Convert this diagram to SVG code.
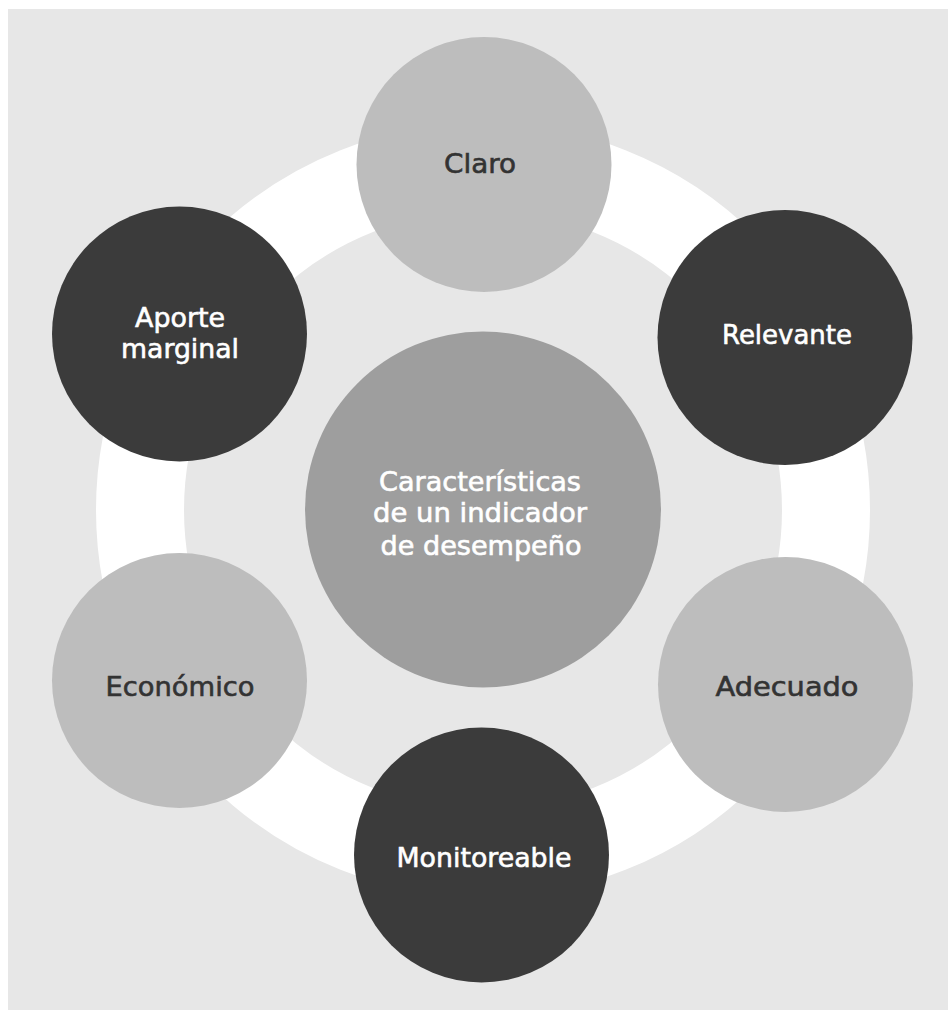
<svg xmlns="http://www.w3.org/2000/svg" width="948" height="1010" viewBox="0 0 948 1010">
<style>
.lbl{font-family:"DejaVu Sans","Liberation Sans",sans-serif;font-size:27px;text-anchor:middle;stroke-width:0.6px}
.dk{fill:#333333;stroke:#333333}
.wt{fill:#ffffff;stroke:#ffffff}
.light{fill:#bdbdbd}
.dark{fill:#3b3b3b}
</style>
<rect x="8" y="9" width="940" height="1001" fill="#e7e7e7"/>
<g id="connectors">
<circle cx="483" cy="510" r="343" fill="none" stroke="#ffffff" stroke-width="88"/>
</g>
<g id="center">
<circle cx="483" cy="509.5" r="178" fill="#9e9e9e"/>
<text class="lbl wt" x="480" y="491" textLength="202" lengthAdjust="spacingAndGlyphs">Características</text>
<text class="lbl wt" x="480" y="522" textLength="214" lengthAdjust="spacingAndGlyphs">de un indicador</text>
<text class="lbl wt" x="481" y="555" textLength="201" lengthAdjust="spacingAndGlyphs">de desempeño</text>
</g>
<g id="claro">
<circle class="light" cx="484" cy="164.5" r="127.5"/>
<text class="lbl dk" x="480" y="173" textLength="72" lengthAdjust="spacingAndGlyphs">Claro</text>
</g>
<g id="relevante">
<circle class="dark" cx="785" cy="337.5" r="127.5"/>
<text class="lbl wt" x="787" y="344" textLength="130" lengthAdjust="spacingAndGlyphs">Relevante</text>
</g>
<g id="adecuado">
<circle class="light" cx="785.5" cy="684.5" r="127.5"/>
<text class="lbl dk" x="787" y="696" textLength="143" lengthAdjust="spacingAndGlyphs">Adecuado</text>
</g>
<g id="monitoreable">
<circle class="dark" cx="481.5" cy="855" r="127.5"/>
<text class="lbl wt" x="484" y="867" textLength="175" lengthAdjust="spacingAndGlyphs">Monitoreable</text>
</g>
<g id="economico">
<circle class="light" cx="179.5" cy="680.5" r="127.5"/>
<text class="lbl dk" x="180" y="696" textLength="149" lengthAdjust="spacingAndGlyphs">Económico</text>
</g>
<g id="aporte">
<circle class="dark" cx="179.5" cy="334" r="127.5"/>
<text class="lbl wt" x="180" y="327" textLength="90" lengthAdjust="spacingAndGlyphs">Aporte</text>
<text class="lbl wt" x="180" y="358" textLength="118" lengthAdjust="spacingAndGlyphs">marginal</text>
</g>
</svg>
